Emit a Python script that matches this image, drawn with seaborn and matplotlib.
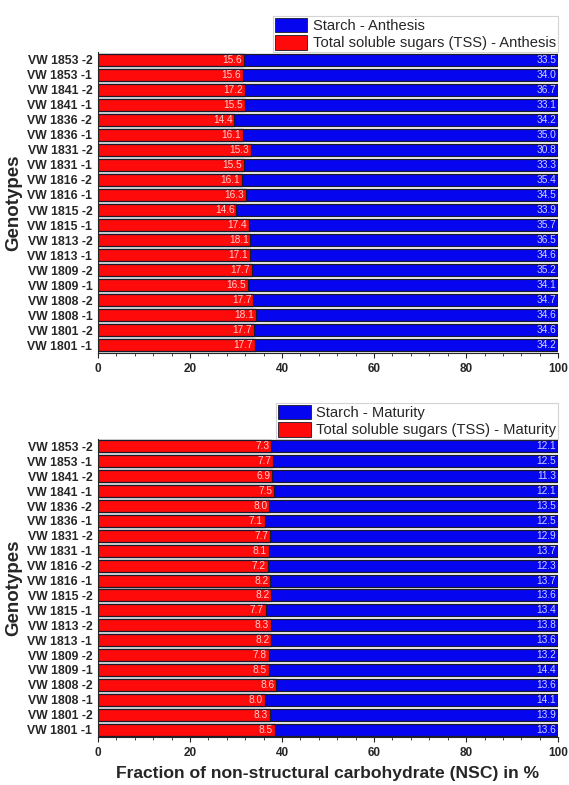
import numpy as np
import pandas as pd
import matplotlib
matplotlib.use("Agg")
import matplotlib.pyplot as plt
from matplotlib.ticker import MultipleLocator
from matplotlib.patches import Patch
import seaborn as sns

# Genotypes, top to bottom as drawn
genotypes = ["VW 1853 -2", "VW 1853 -1", "VW 1841 -2", "VW 1841 -1", "VW 1836 -2",
             "VW 1836 -1", "VW 1831 -2", "VW 1831 -1", "VW 1816 -2", "VW 1816 -1",
             "VW 1815 -2", "VW 1815 -1", "VW 1813 -2", "VW 1813 -1", "VW 1809 -2",
             "VW 1809 -1", "VW 1808 -2", "VW 1808 -1", "VW 1801 -2", "VW 1801 -1"]

# Anthesis
tss_anthesis = [15.6, 15.6, 17.2, 15.5, 14.4, 16.1, 15.3, 15.5, 16.1, 16.3,
                14.6, 17.4, 18.1, 17.1, 17.7, 16.5, 17.7, 18.1, 17.7, 17.7]
starch_anthesis = [33.5, 34.0, 36.7, 33.1, 34.2, 35.0, 30.8, 33.3, 35.4, 34.5,
                   33.9, 35.7, 36.5, 34.6, 35.2, 34.1, 34.7, 34.6, 34.6, 34.2]

# Maturity
tss_maturity = [7.3, 7.7, 6.9, 7.5, 8.0, 7.1, 7.7, 8.1, 7.2, 8.2,
                8.2, 7.7, 8.3, 8.2, 7.8, 8.5, 8.6, 8.0, 8.3, 8.5]
starch_maturity = [12.1, 12.5, 11.3, 12.1, 13.5, 12.5, 12.9, 13.7, 12.3, 13.7,
                   13.6, 13.4, 13.8, 13.6, 13.2, 14.4, 13.6, 14.1, 13.9, 13.6]

xticks = [0, 20, 40, 60, 80, 100]

RED = "#ff0a0a"
BLUE = "#0505f0"
EDGE = "#1a1a2a"

sns.set_style("ticks")
plt.rcParams["font.family"] = ["Liberation Sans", "DejaVu Sans"]


def panel(ax, tss, starch, stage):
    df = pd.DataFrame({"genotype": genotypes, "tss": tss, "starch": starch})
    total = df["tss"] + df["starch"]
    df["tss_pct"] = df["tss"] / total * 100
    df["all_pct"] = (df["tss"] + df["starch"]) / total * 100

    sns.barplot(data=df, x="all_pct", y="genotype", color=BLUE, saturation=1,
                width=0.8, edgecolor=EDGE, linewidth=0.9, ax=ax, orient="h")
    sns.barplot(data=df, x="tss_pct", y="genotype", color=RED, saturation=1,
                width=0.8, edgecolor=EDGE, linewidth=0.9, ax=ax, orient="h")

    for i, row in df.iterrows():
        ax.text(row["tss_pct"] - 0.4, i, f"{row['tss']:.1f}", ha="right",
                va="center", fontsize=7.3, color="#ffcccc")
        ax.text(row["all_pct"] - 0.4, i, f"{row['starch']:.1f}", ha="right",
                va="center", fontsize=7.3, color="#ccd2ff")

    ax.set_xlim(0, 100)
    ax.set_ylim(len(genotypes) - 0.5, -0.5)
    ax.set_xticks(xticks)
    ax.xaxis.set_minor_locator(MultipleLocator(4))
    ax.tick_params(axis="x", which="major", direction="out", length=3.5, width=0.8,
                   labelsize=8.5, pad=4)
    ax.tick_params(axis="x", which="minor", direction="out", length=2, width=0.6)
    ax.tick_params(axis="y", length=0, labelsize=8.8, pad=4)
    for lab in ax.get_xticklabels() + ax.get_yticklabels():
        lab.set_fontweight("bold")
    ax.set_ylabel("Genotypes", fontsize=13.5, fontweight="bold", labelpad=4)
    ax.set_xlabel("")
    sns.despine(ax=ax, top=True, right=True)

    handles = [Patch(facecolor=BLUE, edgecolor=EDGE, linewidth=0.6),
               Patch(facecolor=RED, edgecolor=EDGE, linewidth=0.6)]
    labels = [f"Starch - {stage}", f"Total soluble sugars (TSS) - {stage}"]
    leg = ax.legend(handles, labels, loc="lower right", bbox_to_anchor=(1.0, 1.0),
                    borderaxespad=0, frameon=True, fancybox=False, fontsize=10.6,
                    handlelength=2.2, handleheight=1.15, labelspacing=0.12,
                    borderpad=0.12, handletextpad=0.4)
    leg.get_frame().set_edgecolor("#c8c8c8")
    leg.get_frame().set_linewidth(0.8)


fig = plt.figure(figsize=(5.69, 7.85), dpi=100)
ax1 = fig.add_axes([0.172, 1 - 353 / 785, 0.809, 301 / 785])
ax2 = fig.add_axes([0.172, 1 - 737 / 785, 0.809, 298 / 785])

panel(ax1, tss_anthesis, starch_anthesis, "Anthesis")
panel(ax2, tss_maturity, starch_maturity, "Maturity")
ax2.set_xlabel("Fraction of non-structural carbohydrate (NSC) in %", fontsize=12.6,
               fontweight="bold", labelpad=5)

fig.savefig("out.png", dpi=100)
